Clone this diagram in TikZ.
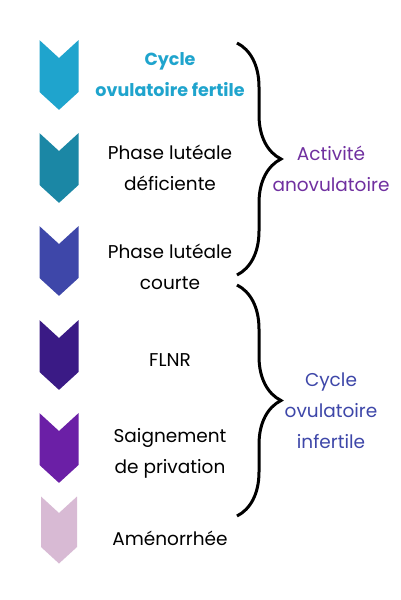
\documentclass[tikz,border=0pt]{standalone}
\usepackage{fontspec}
\setmainfont{Poppins}
\usetikzlibrary{shapes.symbols,decorations.pathreplacing}
\definecolor{cyc1}{HTML}{1FA4CD}
\definecolor{cyc2}{HTML}{1B87A5}
\definecolor{cyc3}{HTML}{3E47A9}
\definecolor{cyc4}{HTML}{3A1A85}
\definecolor{cyc5}{HTML}{6B1FA6}
\definecolor{cyc6}{HTML}{D8BAD4}
\definecolor{anov}{HTML}{7030A0}
\begin{document}
\begin{tikzpicture}[x=1pt,y=-1pt,
  chev/.style={shape=signal, signal to=south, signal from=north, signal pointer angle=95,
    minimum width=39pt, minimum height=34pt, inner sep=0pt},
  lbl/.style={align=center, font=\fontsize{18.5}{31}\selectfont},
  brc/.style={decorate, decoration={brace, amplitude=44pt}, line width=3pt}]
\useasboundingbox[fill=white] (0,0) rectangle (400,600);
\node[chev, fill=cyc1] (c1) at (59,75) {};
\node[chev, fill=cyc2] (c2) at (59,168) {};
\node[chev, fill=cyc3] (c3) at (59,261) {};
\node[chev, fill=cyc4] (c4) at (59,355) {};
\node[chev, fill=cyc5] (c5) at (59,448) {};
\node[chev, fill=cyc6, minimum width=36pt] (c6) at (59,530) {};

\node[lbl, text=cyc1, font=\fontsize{17.5}{31}\selectfont\bfseries] (t1) at (170,75) {Cycle\\ovulatoire fertile};
\node[lbl] (t2) at (170,168) {Phase lutéale\\déficiente};
\node[lbl] (t3) at (170,267) {Phase lutéale\\courte};
\node[lbl] (t4) at (170,360) {FLNR};
\node[lbl] (t5) at (170,453) {Saignement\\de privation};
\node[lbl] (t6) at (170,538) {Aménorrhée};

\coordinate (b1s) at (237,43);
\coordinate (b1e) at (237,275);
\coordinate (b2s) at (237,285);
\coordinate (b2e) at (237,516);
\path[draw,brc] (b1s) -- (b1e);
\path[draw,brc] (b2s) -- (b2e);

\node[lbl, text=anov] (g1) at (331,169) {Activité\\anovulatoire};
\node[lbl, text=cyc3] (g2) at (331,411) {Cycle\\ovulatoire\\infertile};
\end{tikzpicture}
\end{document}
